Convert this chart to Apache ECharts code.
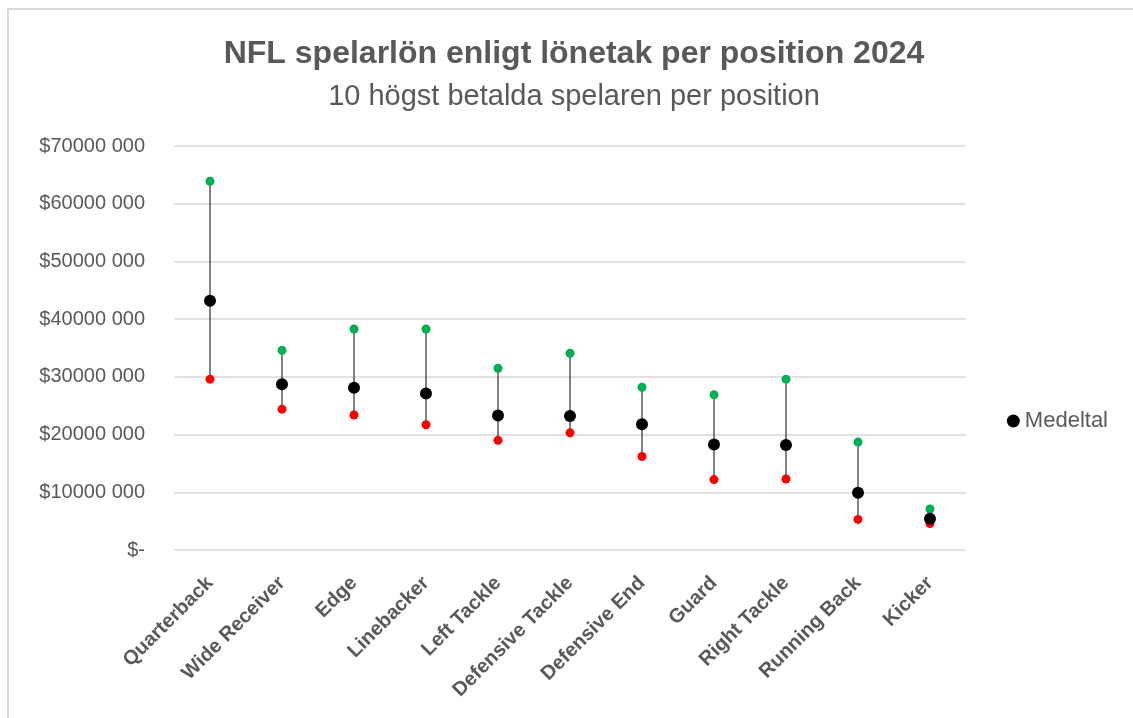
<!DOCTYPE html>
<html>
<head>
<meta charset="utf-8">
<script src="https://cdn.jsdelivr.net/npm/echarts@6/dist/echarts.min.js"></script>
<style>
html,body{margin:0;padding:0;background:#fff;overflow:hidden;}
#frame{position:absolute;left:7px;top:8px;width:1300px;height:900px;border:2px solid #d9d9d9;box-sizing:border-box;}
#chart{position:absolute;left:0;top:0;width:1133px;height:718px;}
</style>
</head>
<body>
<div id="frame"></div>
<div id="chart"></div>
<script>
const categories = ['Quarterback','Wide Receiver','Edge','Linebacker','Left Tackle','Defensive Tackle','Defensive End','Guard','Right Tackle','Running Back','Kicker'];
const maxValues  = [63900000,34600000,38300000,38300000,31500000,34100000,28200000,26900000,29600000,18700000,7100000];
const meanValues = [43200000,28700000,28100000,27100000,23300000,23200000,21800000,18300000,18200000,9900000,5400000];
const minValues  = [29600000,24400000,23400000,21700000,19000000,20300000,16200000,12200000,12300000,5300000,4600000];
const yTicks = [0,10000000,20000000,30000000,40000000,50000000,60000000,70000000];

const FONT = 'Liberation Sans';
const chart = echarts.init(document.getElementById('chart'));
chart.setOption({
  animation:false,
  backgroundColor:'transparent',
  graphic:[
    {type:'text',x:574,y:54,style:{text:'NFL spelarlön enligt lönetak per position 2024',align:'center',verticalAlign:'middle',textAlign:'center',textVerticalAlign:'middle',font:'bold 32px "'+FONT+'"',fill:'#595959'}},
    {type:'text',x:574,y:97,style:{text:'10 högst betalda spelaren per position',align:'center',verticalAlign:'middle',textAlign:'center',textVerticalAlign:'middle',font:'29px "'+FONT+'"',fill:'#595959'}}
  ],
  legend:{
    data:['Medeltal'],
    right:20, top:405,
    icon:'circle', itemWidth:13, itemHeight:13, itemGap:8,
    textStyle:{fontFamily:FONT,fontSize:22,color:'#595959'}
  },
  grid:{left:174,right:167,top:146,bottom:168,containLabel:false},
  xAxis:{
    type:'category',
    data:categories,
    axisLine:{show:false},
    axisTick:{show:false},
    axisLabel:{rotate:45,interval:0,fontFamily:FONT,fontSize:20,fontWeight:'bold',color:'#595959',margin:30},
    splitLine:{show:false}
  },
  yAxis:{
    type:'value',
    min:0,max:70000000,interval:10000000,
    axisLine:{show:false},
    axisTick:{show:false},
    axisLabel:{
      fontFamily:FONT,fontSize:20,color:'#595959',margin:29,
      formatter:function(v){ return v===0 ? '$-' : '$' + (v/1000) + ' 000'; }
    },
    splitLine:{lineStyle:{color:'#d9d9d9',width:1.5}}
  },
  series:[
    {
      name:'range',type:'custom',z:1,silent:true,
      renderItem:function(params,api){
        const x = api.value(0);
        const p1 = api.coord([x, api.value(1)]);
        const p2 = api.coord([x, api.value(2)]);
        return {type:'line',shape:{x1:p1[0],y1:p1[1],x2:p2[0],y2:p2[1]},style:{stroke:'#404040',lineWidth:1.3}};
      },
      data:categories.map(function(c,i){return [i,minValues[i],maxValues[i]];})
    },
    {name:'Max',type:'scatter',z:3,symbolSize:9,itemStyle:{color:'#00b050',opacity:1},data:maxValues},
    {name:'Min',type:'scatter',z:3,symbolSize:9,itemStyle:{color:'#ff0000',opacity:1},data:minValues},
    {name:'Medeltal',type:'scatter',z:4,symbolSize:12,itemStyle:{color:'#000000',opacity:1},data:meanValues}
  ]
});
</script>
</body>
</html>
